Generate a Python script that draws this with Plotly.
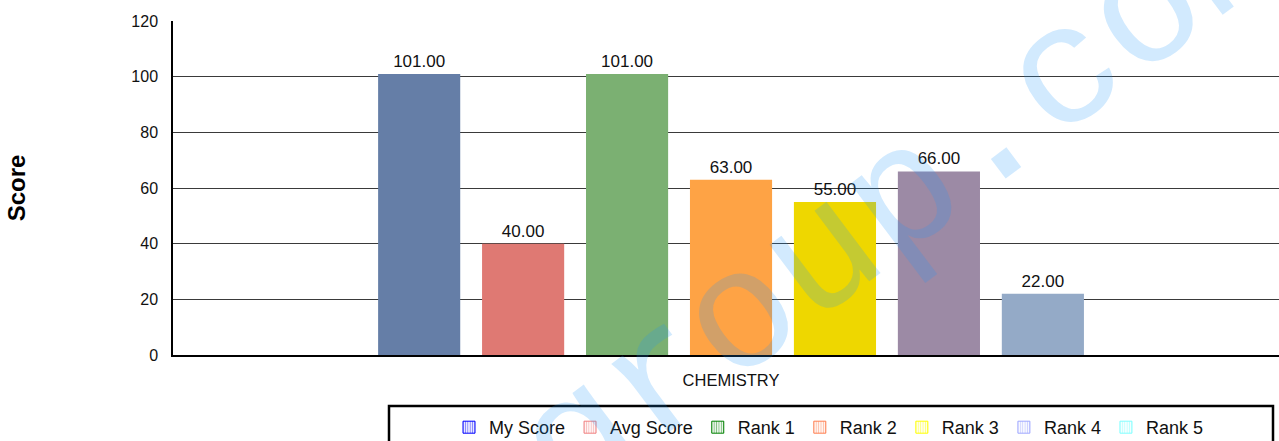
import plotly.graph_objects as go

# Scores for one subject
subject = ["CHEMISTRY"]
series_names = ["My Score", "Avg Score", "Rank 1", "Rank 2", "Rank 3", "Rank 4", "Rank 5"]
series_values = [101, 40, 101, 63, 55, 66, 22]

bar_colors = ["#657ea7", "#df7973", "#7bb072", "#fea345", "#eed700", "#9c8aa5", "#94aac7"]
legend_colors = ["#0000ff", "#f08080", "#008000", "#ff7f50", "#ffff00", "#a0a8ff", "#80ffff"]

y_ticks = [0, 20, 40, 60, 80, 100, 120]

W, H = 1279, 441
ML, MR, MT, MB = 173, 0, 21, 86
plot_w = W - ML - MR
plot_h = H - MT - MB


def px_x(px):
    return (px - ML) / plot_w


def px_y(py):
    return (H - MB - py) / plot_h


FONT = "Liberation Sans, Arial, sans-serif"

fig = go.Figure()

# Bars (legend entries are drawn by the hatched proxy traces below)
for name, val, col in zip(series_names, series_values, bar_colors):
    fig.add_trace(go.Bar(
        x=subject, y=[val], name=name, showlegend=False,
        marker=dict(color=col, line=dict(width=0)),
        texttemplate="%{y:.2f}", textposition="outside",
        textfont=dict(family=FONT, size=17, color="#111"),
        cliponaxis=False,
    ))

# Hatched legend swatches on a hidden overlay axis
for name, col in zip(series_names, legend_colors):
    fig.add_trace(go.Bar(
        x=[None], y=[None], name=name, xaxis="x2", yaxis="y2",
        marker=dict(color="white",
                    pattern=dict(shape="|", fgcolor=col, bgcolor="white", size=3, solidity=0.45),
                    line=dict(color=col, width=1)),
    ))

fig.update_layout(
    width=W, height=H,
    margin=dict(l=ML, r=MR, t=MT, b=MB, pad=0, autoexpand=False),
    paper_bgcolor="white", plot_bgcolor="white",
    barmode="group", bargap=0.348, bargroupgap=0.21,
    font=dict(family=FONT, size=16, color="#111"),
    xaxis=dict(
        type="category", range=[-0.5, 0.491],
        showgrid=False, ticks="", ticklabelstandoff=9,
        tickfont=dict(size=16.5, color="#111"),
        showline=True, linecolor="#000", linewidth=2,
        zeroline=False,
    ),
    yaxis=dict(
        range=[0, 120.05], tickvals=y_ticks,
        showgrid=True, gridcolor="#3a3a3a", gridwidth=1,
        showline=True, linecolor="#000", linewidth=1.5,
        zeroline=False, ticks="", ticklabelstandoff=10,
        tickfont=dict(size=16, color="#111"),
        title=dict(text="<b>Score</b>", font=dict(size=24, color="#000"), standoff=99),
    ),
    xaxis2=dict(overlaying="x", visible=False, range=[0, 1]),
    yaxis2=dict(overlaying="y", visible=False, range=[0, 1]),
    legend=dict(
        orientation="h", x=px_x(449), xanchor="left", y=px_y(409), yanchor="top",
        font=dict(size=18, color="#111"), bgcolor="rgba(0,0,0,0)",
        borderwidth=0, itemwidth=30, traceorder="normal",
    ),
    showlegend=True,
)

# Legend frame
fig.add_shape(type="rect", xref="paper", yref="paper",
              x0=px_x(389), x1=px_x(1273), y0=px_y(406), y1=px_y(450),
              line=dict(color="#000", width=2.5), fillcolor="rgba(0,0,0,0)")

# Watermark
fig.add_annotation(
    text="group.com", xref="paper", yref="paper",
    x=px_x(905), y=px_y(198), xanchor="center", yanchor="middle",
    showarrow=False, textangle=-37,
    font=dict(family="Liberation Mono, Courier New, monospace", size=169,
              color="rgba(30,150,250,0.2)"),
)

fig.write_html("out.html")
